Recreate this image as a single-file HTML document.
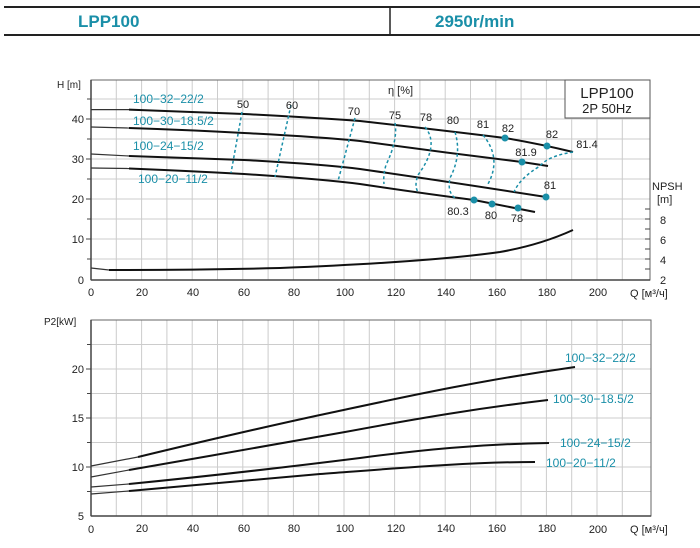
<!DOCTYPE html>
<html><head><meta charset="utf-8"><style>
body{margin:0;background:#fff;}
svg{display:block;font-family:"Liberation Sans",Arial,sans-serif;}
</style></head><body>
<svg width="700" height="548" viewBox="0 0 700 548">
<line x1="4" y1="7" x2="700" y2="7" stroke="#222" stroke-width="2"/>
<line x1="4" y1="35" x2="700" y2="35" stroke="#222" stroke-width="2"/>
<line x1="390" y1="7" x2="390" y2="35" stroke="#222" stroke-width="1.5"/>
<text x="78" y="27" font-size="17" font-weight="bold" fill="#1a8fa8">LPP100</text>
<text x="435" y="27" font-size="17" font-weight="bold" fill="#1a8fa8">2950r/min</text>

<g stroke="#ccc" stroke-width="1">
<path d="M116.3 80V280M141.6 80V280M166.9 80V280M192.2 80V280M217.5 80V280M242.8 80V280M268.1 80V280M293.4 80V280M318.7 80V280M344 80V280M369.3 80V280M394.6 80V280M419.9 80V280M445.2 80V280M470.5 80V280M495.8 80V280M521.1 80V280M546.4 80V280M571.7 80V280M597 80V280M622.3 80V280"/>
<path d="M91 99H650M91 119H650M91 139H650M91 159H650M91 179H650M91 199H650M91 219H650M91 239H650M91 259H650"/>
<path d="M116.3 320V516M141.6 320V516M166.9 320V516M192.2 320V516M217.5 320V516M242.8 320V516M268.1 320V516M293.4 320V516M318.7 320V516M344 320V516M369.3 320V516M394.6 320V516M419.9 320V516M445.2 320V516M470.5 320V516M495.8 320V516M521.1 320V516M546.4 320V516M571.7 320V516M597 320V516M622.3 320V516"/>
<path d="M91 344.5H651M91 369H651M91 393.5H651M91 418H651M91 442.5H651M91 467H651M91 491.5H651"/>
</g>
<g stroke="#666" stroke-width="1" fill="none">
<rect x="91" y="80" width="559" height="200"/>
<rect x="91" y="320" width="560" height="196"/>
</g>
<g stroke="#444" stroke-width="1.5">
<line x1="91" y1="80" x2="91" y2="280"/><line x1="91" y1="280" x2="650" y2="280"/>
<line x1="91" y1="320" x2="91" y2="516"/><line x1="91" y1="516" x2="651" y2="516"/>
</g>
<g stroke="#444" stroke-width="1">
<path d="M91 99h-4M91 119h-5M91 139h-4M91 159h-5M91 179h-4M91 199h-5M91 219h-4M91 239h-5M91 259h-4"/>
<path d="M91 344.5h-4M91 369h-5M91 393.5h-4M91 418h-5M91 442.5h-4M91 467h-5M91 491.5h-4"/>
</g>
<rect x="565" y="80" width="85" height="38" fill="#fff" stroke="#555"/>
<text x="607" y="98" font-size="15" text-anchor="middle" fill="#222">LPP100</text>
<text x="607" y="113" font-size="13" text-anchor="middle" fill="#222">2P  50Hz</text>

<g font-size="11" fill="#222" text-anchor="end">
<text x="84" y="123">40</text><text x="84" y="163">30</text><text x="84" y="203">20</text><text x="84" y="243">10</text><text x="84" y="284">0</text>
</g>
<text x="57" y="88" font-size="10" fill="#222">H [m]</text>
<g font-size="11" fill="#222" text-anchor="middle">
<text x="91" y="296">0</text><text x="142" y="296">20</text><text x="193" y="296">40</text><text x="244" y="296">60</text><text x="294" y="296">80</text><text x="345" y="296">100</text><text x="396" y="296">120</text><text x="446" y="296">140</text><text x="497" y="296">160</text><text x="547" y="296">180</text><text x="598" y="296">200</text>
</g>
<text x="630" y="297" font-size="11" fill="#222">Q [м³/ч]</text>
<g font-size="11" fill="#222">
<text x="652" y="190">NPSH</text><text x="657" y="203">[m]</text>
<text x="660" y="224">8</text><text x="660" y="244">6</text><text x="660" y="264">4</text><text x="660" y="284">2</text>
</g>
<g stroke="#444"><path d="M650 209h-5M650 219h-5M650 229h-5M650 239h-5M650 249h-5M650 259h-5M650 269h-5"/></g>
<text x="388" y="94" font-size="11" fill="#222">η [%]</text>

<g fill="none" stroke="#333" stroke-width="1.2">
<path d="M91 109.6L129 109.6"/><path d="M91 127L129 128"/><path d="M91 154L129 156"/><path d="M91 168L129 168.5"/><path d="M91 268L109 270"/>
<path d="M91 466L138 457"/><path d="M91 477L129 470"/><path d="M91 487L129 484"/><path d="M91 494L129 491"/>
</g>
<g fill="none" stroke="#111" stroke-width="2">
<path d="M129 109.6Q190 112 244 114Q320 118 360 121Q440 130 505 138Q540 144 573 152"/>
<path d="M129 128Q190 130 244 133Q320 137 360 141Q440 152 522 162L548 166"/>
<path d="M129 156Q190 158 244 160Q320 164 360 169Q450 182 546 197"/>
<path d="M129 168.5Q190 171 244 174Q320 179 360 184Q420 193 474 200Q500 205 535 212"/>
<path d="M109 270Q200 270 280 268Q430 262 500 252Q540 245 573 230"/>
</g>
<g fill="none" stroke="#1a8fa8" stroke-width="1.5" stroke-dasharray="3,2.5">
<path d="M242 112L231 173"/>
<path d="M291 105L275 177"/>
<path d="M355 118L338 181"/>
<path d="M395 123Q398 140 386 165Q383 175 384 184"/>
<path d="M425 127Q440 145 418 175Q414 186 418 192"/>
<path d="M455 132Q462 155 450 178Q447 192 455 198"/>
<path d="M483 135Q502 158 488 184"/>
<path d="M573 152Q548 156 540 166Q520 178 514 192"/>
</g>
<g fill="#1a8fa8">
<circle cx="505" cy="138" r="3.5"/><circle cx="547" cy="146" r="3.5"/><circle cx="522" cy="162" r="3.5"/><circle cx="546" cy="197" r="3.5"/><circle cx="474" cy="200" r="3.5"/><circle cx="492" cy="204" r="3.5"/><circle cx="518" cy="208" r="3.5"/>
</g>
<g font-size="11" fill="#222" text-anchor="middle">
<text x="243" y="108">50</text><text x="292" y="109">60</text><text x="354" y="115">70</text><text x="395" y="119">75</text><text x="426" y="121">78</text><text x="453" y="124">80</text><text x="483" y="128">81</text><text x="508" y="132">82</text><text x="552" y="138">82</text><text x="587" y="148">81.4</text><text x="526" y="156">81.9</text><text x="550" y="189">81</text><text x="458" y="215">80.3</text><text x="491" y="219">80</text><text x="517" y="222">78</text>
</g>
<g font-size="12" fill="#1a8fa8">
<text x="133" y="103">100−32−22/2</text><text x="133" y="125">100−30−18.5/2</text><text x="133" y="150">100−24−15/2</text><text x="138" y="183">100−20−11/2</text>
</g>

<text x="44" y="325" font-size="10" fill="#222">P2[kW]</text>
<g font-size="11" fill="#222" text-anchor="end">
<text x="84" y="373">20</text><text x="84" y="422">15</text><text x="84" y="471">10</text><text x="84" y="520">5</text>
</g>
<g font-size="11" fill="#222" text-anchor="middle">
<text x="91" y="533">0</text><text x="142" y="532">20</text><text x="193" y="532">40</text><text x="244" y="532">60</text><text x="294" y="532">80</text><text x="345" y="532">100</text><text x="396" y="532">120</text><text x="446" y="532">140</text><text x="497" y="532">160</text><text x="547" y="532">180</text><text x="598" y="533">200</text>
</g>
<text x="630" y="533" font-size="11" fill="#222">Q [м³/ч]</text>
<g fill="none" stroke="#111" stroke-width="2">
<path d="M138 457C200 442 260 428 320 415C400 398 470 382 575 367"/>
<path d="M129 470C200 458 280 443 345 432C420 418 480 408 548 400"/>
<path d="M129 484C200 477 280 468 360 458C420 450 480 444 549 443"/>
<path d="M129 491C200 485 260 479 320 474C400 468 470 462 535 462"/>
</g>
<g font-size="12" fill="#1a8fa8">
<text x="565" y="362">100−32−22/2</text><text x="553" y="403">100−30−18.5/2</text><text x="560" y="447">100−24−15/2</text><text x="546" y="467">100−20−11/2</text>
</g>
</svg>
</body></html>
